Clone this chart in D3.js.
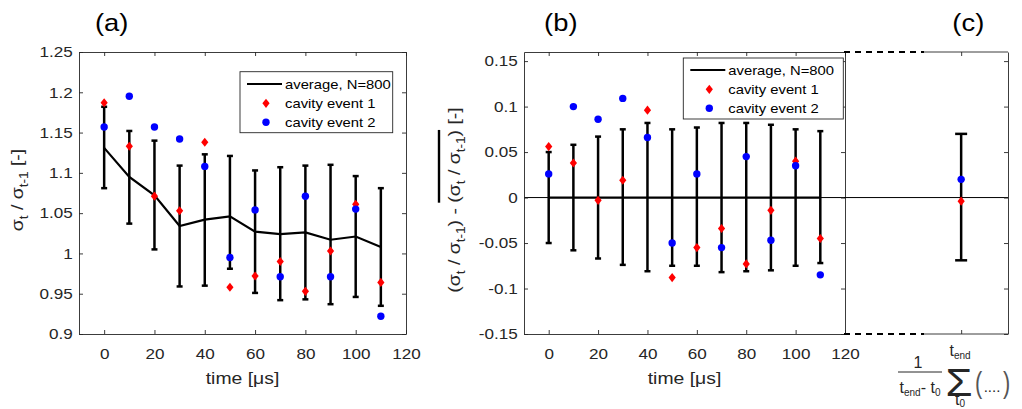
<!DOCTYPE html>
<html>
<head>
<meta charset="utf-8">
<script src="https://cdn.jsdelivr.net/npm/d3@7"></script>
<style>
  body { margin: 0; background: #fff; }
  svg { display: block; font-family: "Liberation Sans", Arial, sans-serif; }
</style>
</head>
<body>
<svg id="fig" width="1022" height="409"></svg>
<script>
// time steps (µs) and tick labels
var times = [0, 10, 20, 30, 40, 50, 60, 70, 80, 90, 100, 110];
var xTicks = [0, 20, 40, 60, 80, 100, 120];
var yTicksA = [0.9, 0.95, 1, 1.05, 1.1, 1.15, 1.2, 1.25];
var yLabelsA = ["0.9", "0.95", "1", "1.05", "1.1", "1.15", "1.2", "1.25"];
var yTicksB = [-0.15, -0.1, -0.05, 0, 0.05, 0.1, 0.15];
var yLabelsB = ["-0.15", "-0.1", "-0.05", "0", "0.05", "0.1", "0.15"];
var legendLabels = ["average, N=800", "cavity event 1", "cavity event 2"];

// (a) sigma_t / sigma_t-1
var avgA = [1.131, 1.095, 1.072, 1.034, 1.042, 1.046, 1.027, 1.024, 1.026, 1.017, 1.021, 1.008];
var hiA  = [1.182, 1.152, 1.140, 1.109, 1.123, 1.121, 1.103, 1.107, 1.109, 1.110, 1.096, 1.081];
var loA  = [1.081, 1.037, 1.005, 0.959, 0.960, 0.981, 0.951, 0.942, 0.943, 0.937, 0.946, 0.935];
var ev1A = [1.187, 1.133, 1.071, 1.053, 1.138, 0.958, 0.972, 0.990, 0.953, 1.003, 1.061, 0.964];
var ev2A = [1.157, 1.195, 1.157, 1.142, 1.108, 0.995, 1.054, 0.971, 1.071, 0.971, 1.055, 0.922];

// (b) deviation from the mean ratio
var avgB = [0, 0, 0, 0, 0, 0, 0, 0, 0, 0, 0, 0];
var hiB  = [0.050, 0.058, 0.067, 0.075, 0.082, 0.075, 0.077, 0.082, 0.082, 0.080, 0.075, 0.073];
var loB  = [-0.050, -0.058, -0.067, -0.074, -0.081, -0.075, -0.075, -0.082, -0.081, -0.080, -0.075, -0.072];
var ev1B = [0.056, 0.038, -0.003, 0.019, 0.096, -0.088, -0.055, -0.034, -0.073, -0.014, 0.040, -0.045];
var ev2B = [0.026, 0.100, 0.086, 0.109, 0.066, -0.050, 0.026, -0.055, 0.045, -0.047, 0.035, -0.085];

// (c) time average
var posC = [1];
var hiC  = [0.070];
var loC  = [-0.069];
var ev1C = [-0.004];
var ev2C = [0.020];

var AX = "#262626";
var SX = 1.14; // horizontal text stretch to match the original rendering

var svg = d3.select("#fig");

var xA = d3.scaleLinear().domain([-10, 120]).range([79, 406]);
var yA = d3.scaleLinear().domain([0.9, 1.25]).range([334, 52]);
var xB = d3.scaleLinear().domain([-10, 120]).range([524, 845]);
var yB = d3.scaleLinear().domain([-0.15, 0.16]).range([334, 52]);
var xC = d3.scaleLinear().domain([0, 1.4]).range([844, 1008]);

var diamond = "M0,-4.6L3.6,0L0,4.6L-3.6,0Z";

function styleAxis(g) {
  g.select(".domain").attr("stroke", AX).attr("stroke-width", 0.9);
  g.selectAll(".tick line").attr("stroke", AX).attr("stroke-width", 0.9);
  g.selectAll(".tick text").attr("fill", AX).attr("font-size", 15)
    .attr("transform", "scale(" + SX + ",1)");
}

function drawBox(x, y, yTicks, yLabels) {
  var x0 = x.range()[0], x1 = x.range()[1];
  var y0 = y.range()[0], y1 = y.range()[1];
  svg.append("g").attr("transform", "translate(0," + y0 + ")")
    .call(d3.axisBottom(x).tickValues(xTicks).tickFormat(d3.format("d"))
      .tickSizeInner(-4).tickSizeOuter(0).tickPadding(14))
    .call(styleAxis);
  svg.append("g").attr("transform", "translate(0," + y1 + ")")
    .call(d3.axisTop(x).tickValues(xTicks).tickFormat("")
      .tickSizeInner(-4).tickSizeOuter(0))
    .call(styleAxis);
  svg.append("g").attr("transform", "translate(" + x0 + ",0)")
    .call(d3.axisLeft(y).tickValues(yTicks).tickFormat(function (d, i) { return yLabels[i]; })
      .tickSizeInner(-4).tickSizeOuter(0).tickPadding(5.5))
    .call(styleAxis);
  svg.append("g").attr("transform", "translate(" + x1 + ",0)")
    .call(d3.axisRight(y).tickValues(yTicks).tickFormat("")
      .tickSizeInner(-4).tickSizeOuter(0))
    .call(styleAxis);
}

function drawSeries(x, y, hi, lo, avg, ev1, ev2, xs, cap) {
  var g = svg.append("g");
  g.selectAll(".bar").data(xs).enter().append("line")
    .attr("x1", function (d) { return x(d); }).attr("x2", function (d) { return x(d); })
    .attr("y1", function (d, i) { return y(hi[i]); }).attr("y2", function (d, i) { return y(lo[i]); })
    .attr("stroke", "#000").attr("stroke-width", 2.5);
  [hi, lo].forEach(function (arr) {
    g.selectAll(null).data(xs).enter().append("line")
      .attr("x1", function (d) { return x(d) - cap; }).attr("x2", function (d) { return x(d) + cap; })
      .attr("y1", function (d, i) { return y(arr[i]); }).attr("y2", function (d, i) { return y(arr[i]); })
      .attr("stroke", "#000").attr("stroke-width", 2.5);
  });
  if (avg) {
    g.append("path").datum(xs)
      .attr("d", d3.line().x(function (d) { return x(d); }).y(function (d, i) { return y(avg[i]); }))
      .attr("fill", "none").attr("stroke", "#000").attr("stroke-width", 2.2);
  }
  g.selectAll(".ev1").data(xs).enter().append("path")
    .attr("d", diamond).attr("fill", "#ff0000")
    .attr("transform", function (d, i) { return "translate(" + x(d) + "," + y(ev1[i]) + ")"; });
  g.selectAll(".ev2").data(xs).enter().append("circle")
    .attr("cx", function (d) { return x(d); }).attr("cy", function (d, i) { return y(ev2[i]); })
    .attr("r", 3.7).attr("fill", "#0000ff");
}

function drawLegend(left, top, w, h, rowY) {
  var g = svg.append("g").attr("transform", "translate(" + left + "," + top + ")");
  g.append("rect").attr("width", w).attr("height", h)
    .attr("fill", "#fff").attr("stroke", AX).attr("stroke-width", 0.9);
  g.append("line").attr("x1", 7).attr("x2", 42).attr("y1", rowY[0]).attr("y2", rowY[0])
    .attr("stroke", "#000").attr("stroke-width", 2.2);
  g.append("path").attr("d", diamond).attr("fill", "#ff0000")
    .attr("transform", "translate(26," + rowY[1] + ")");
  g.append("circle").attr("cx", 26).attr("cy", rowY[2]).attr("r", 3.7).attr("fill", "#0000ff");
  g.selectAll("text").data(legendLabels).enter().append("text")
    .attr("transform", function (d, i) { return "translate(45," + (rowY[i] + 4.6) + ") scale(" + SX + ",1)"; })
    .attr("font-size", 13).attr("fill", "#000").text(function (d) { return d; });
}

function stretchedText(x, y, size, txt, fill, anchor) {
  return svg.append("text")
    .attr("transform", "translate(" + x + "," + y + ") scale(" + SX + ",1)")
    .attr("font-size", size).attr("fill", fill || AX)
    .attr("text-anchor", anchor || "middle").text(txt);
}

// ---------- panel (a)
drawSeries(xA, yA, hiA, loA, avgA, ev1A, ev2A, times, 3);
drawBox(xA, yA, yTicksA, yLabelsA);
drawLegend(240, 71.7, 152.7, 61, [12.3, 31.6, 50.6]);

// ---------- panel (b)
svg.append("line").attr("x1", xB.range()[0]).attr("x2", xB.range()[1])
  .attr("y1", yB(0)).attr("y2", yB(0)).attr("stroke", "#000").attr("stroke-width", 1);
drawSeries(xB, yB, hiB, loB, avgB, ev1B, ev2B, times, 3);
drawBox(xB, yB, yTicksB, yLabelsB);
drawLegend(683.3, 58, 160, 61, [12, 31.3, 50.3]);

// ---------- panel (c)
var c0 = xC.range()[0], c1 = xC.range()[1], cDash = c0 + 80;
svg.append("line").attr("x1", c0).attr("x2", c1)
  .attr("y1", yB(0)).attr("y2", yB(0)).attr("stroke", "#000").attr("stroke-width", 1);
drawSeries(xC, yB, hiC, loC, null, ev1C, ev2C, posC, 6);
[yB.range()[0], yB.range()[1]].forEach(function (yy) {
  svg.append("line").attr("x1", c0).attr("x2", cDash).attr("y1", yy).attr("y2", yy)
    .attr("stroke", "#000").attr("stroke-width", 2.2).attr("stroke-dasharray", "6,5");
  svg.append("line").attr("x1", cDash).attr("x2", c1).attr("y1", yy).attr("y2", yy)
    .attr("stroke", AX).attr("stroke-width", 0.9);
});
svg.append("g").attr("transform", "translate(0," + yB.range()[0] + ")")
  .call(d3.axisBottom(xC).tickValues(posC).tickFormat("").tickSizeInner(-4).tickSizeOuter(0))
  .call(styleAxis).select(".domain").remove();
svg.append("g").attr("transform", "translate(0," + yB.range()[1] + ")")
  .call(d3.axisTop(xC).tickValues(posC).tickFormat("").tickSizeInner(-4).tickSizeOuter(0))
  .call(styleAxis).select(".domain").remove();
svg.append("g").attr("transform", "translate(" + c1 + ",0)")
  .call(d3.axisRight(yB).tickValues(yTicksB).tickFormat("").tickSizeInner(-4).tickSizeOuter(0))
  .call(styleAxis);

// ---------- titles and axis labels
stretchedText(111.7, 31, 24, "(a)", "#000");
stretchedText(560.8, 31, 24, "(b)", "#000");
stretchedText(968.3, 31, 24, "(c)", "#000");
stretchedText(242.5, 384, 17, "time [\u03bcs]");
stretchedText(684.5, 384, 17, "time [\u03bcs]");

// y label (a)
var la = svg.append("text")
  .attr("transform", "translate(23,190) rotate(-90) scale(" + SX + ",1)")
  .attr("font-size", 17).attr("fill", AX).attr("text-anchor", "middle");
la.append("tspan").text("\u03c3");
la.append("tspan").attr("dy", 5).attr("font-size", 12).text("t");
la.append("tspan").attr("dy", -5).text(" / \u03c3");
la.append("tspan").attr("dy", 5).attr("font-size", 12).text("t-1");
la.append("tspan").attr("dy", -5).text(" [-]");

// y label (b), overline on the averaged term
var lb = svg.append("g").attr("transform", "translate(460,200) rotate(-90) scale(" + SX + ",1)");
var lbt = lb.append("text").attr("font-size", 17).attr("fill", AX).attr("text-anchor", "middle");
function ratio(t) {
  t.append("tspan").text("(\u03c3");
  t.append("tspan").attr("dy", 5).attr("font-size", 12).text("t");
  t.append("tspan").attr("dy", -5).text(" / \u03c3");
  t.append("tspan").attr("dy", 5).attr("font-size", 12).text("t-1");
  t.append("tspan").attr("dy", -5).text(")");
}
ratio(lbt);
lbt.append("tspan").text(" - ");
ratio(lbt);
lbt.append("tspan").text("  [-]");
var full = lbt.node().getComputedTextLength();
var s2 = lbt.node().textContent.lastIndexOf("(");
var e2 = lbt.node().textContent.lastIndexOf(")");
var startX = -full / 2 + lbt.node().getSubStringLength(0, s2);
var endX = -full / 2 + lbt.node().getSubStringLength(0, e2 + 1);
lb.append("line").attr("x1", startX).attr("x2", endX).attr("y1", -21).attr("y2", -21)
  .attr("stroke", "#000").attr("stroke-width", 2.4);

// x label (c): 1/(t_end - t_0) * sum_{t0}^{tend} (....)
var fx = svg.append("g").attr("fill", AX);
fx.append("text").attr("x", 918).attr("y", 368).attr("font-size", 16).attr("text-anchor", "middle").text("1");
fx.append("line").attr("x1", 898).attr("x2", 942).attr("y1", 372).attr("y2", 372)
  .attr("stroke", AX).attr("stroke-width", 1);
var den = fx.append("text").attr("x", 920).attr("y", 393).attr("font-size", 16).attr("text-anchor", "middle");
den.append("tspan").text("t");
den.append("tspan").attr("dy", 3).attr("font-size", 10).text("end");
den.append("tspan").attr("dy", -3).text("- t");
den.append("tspan").attr("dy", 3).attr("font-size", 10).text("0");
fx.append("text").attr("transform", "translate(959,396) scale(1.15,1)")
  .attr("font-size", 38).attr("text-anchor", "middle").text("\u03a3");
var top_ = fx.append("text").attr("x", 960).attr("y", 356).attr("font-size", 16).attr("text-anchor", "middle");
top_.append("tspan").text("t");
top_.append("tspan").attr("dy", 3).attr("font-size", 10).text("end");
var bot_ = fx.append("text").attr("x", 960).attr("y", 405).attr("font-size", 16).attr("text-anchor", "middle");
bot_.append("tspan").text("t");
bot_.append("tspan").attr("dy", 2).attr("font-size", 10).text("0");
fx.append("text").attr("transform", "translate(978.5,393) scale(0.75,1)")
  .attr("font-size", 29).attr("fill", "#555").attr("text-anchor", "middle").text("(");
fx.append("text").attr("x", 992).attr("y", 392).attr("font-size", 15).attr("text-anchor", "middle").text("....");
fx.append("text").attr("transform", "translate(1006.5,393) scale(0.75,1)")
  .attr("font-size", 29).attr("fill", "#555").attr("text-anchor", "middle").text(")");
</script>
</body>
</html>
